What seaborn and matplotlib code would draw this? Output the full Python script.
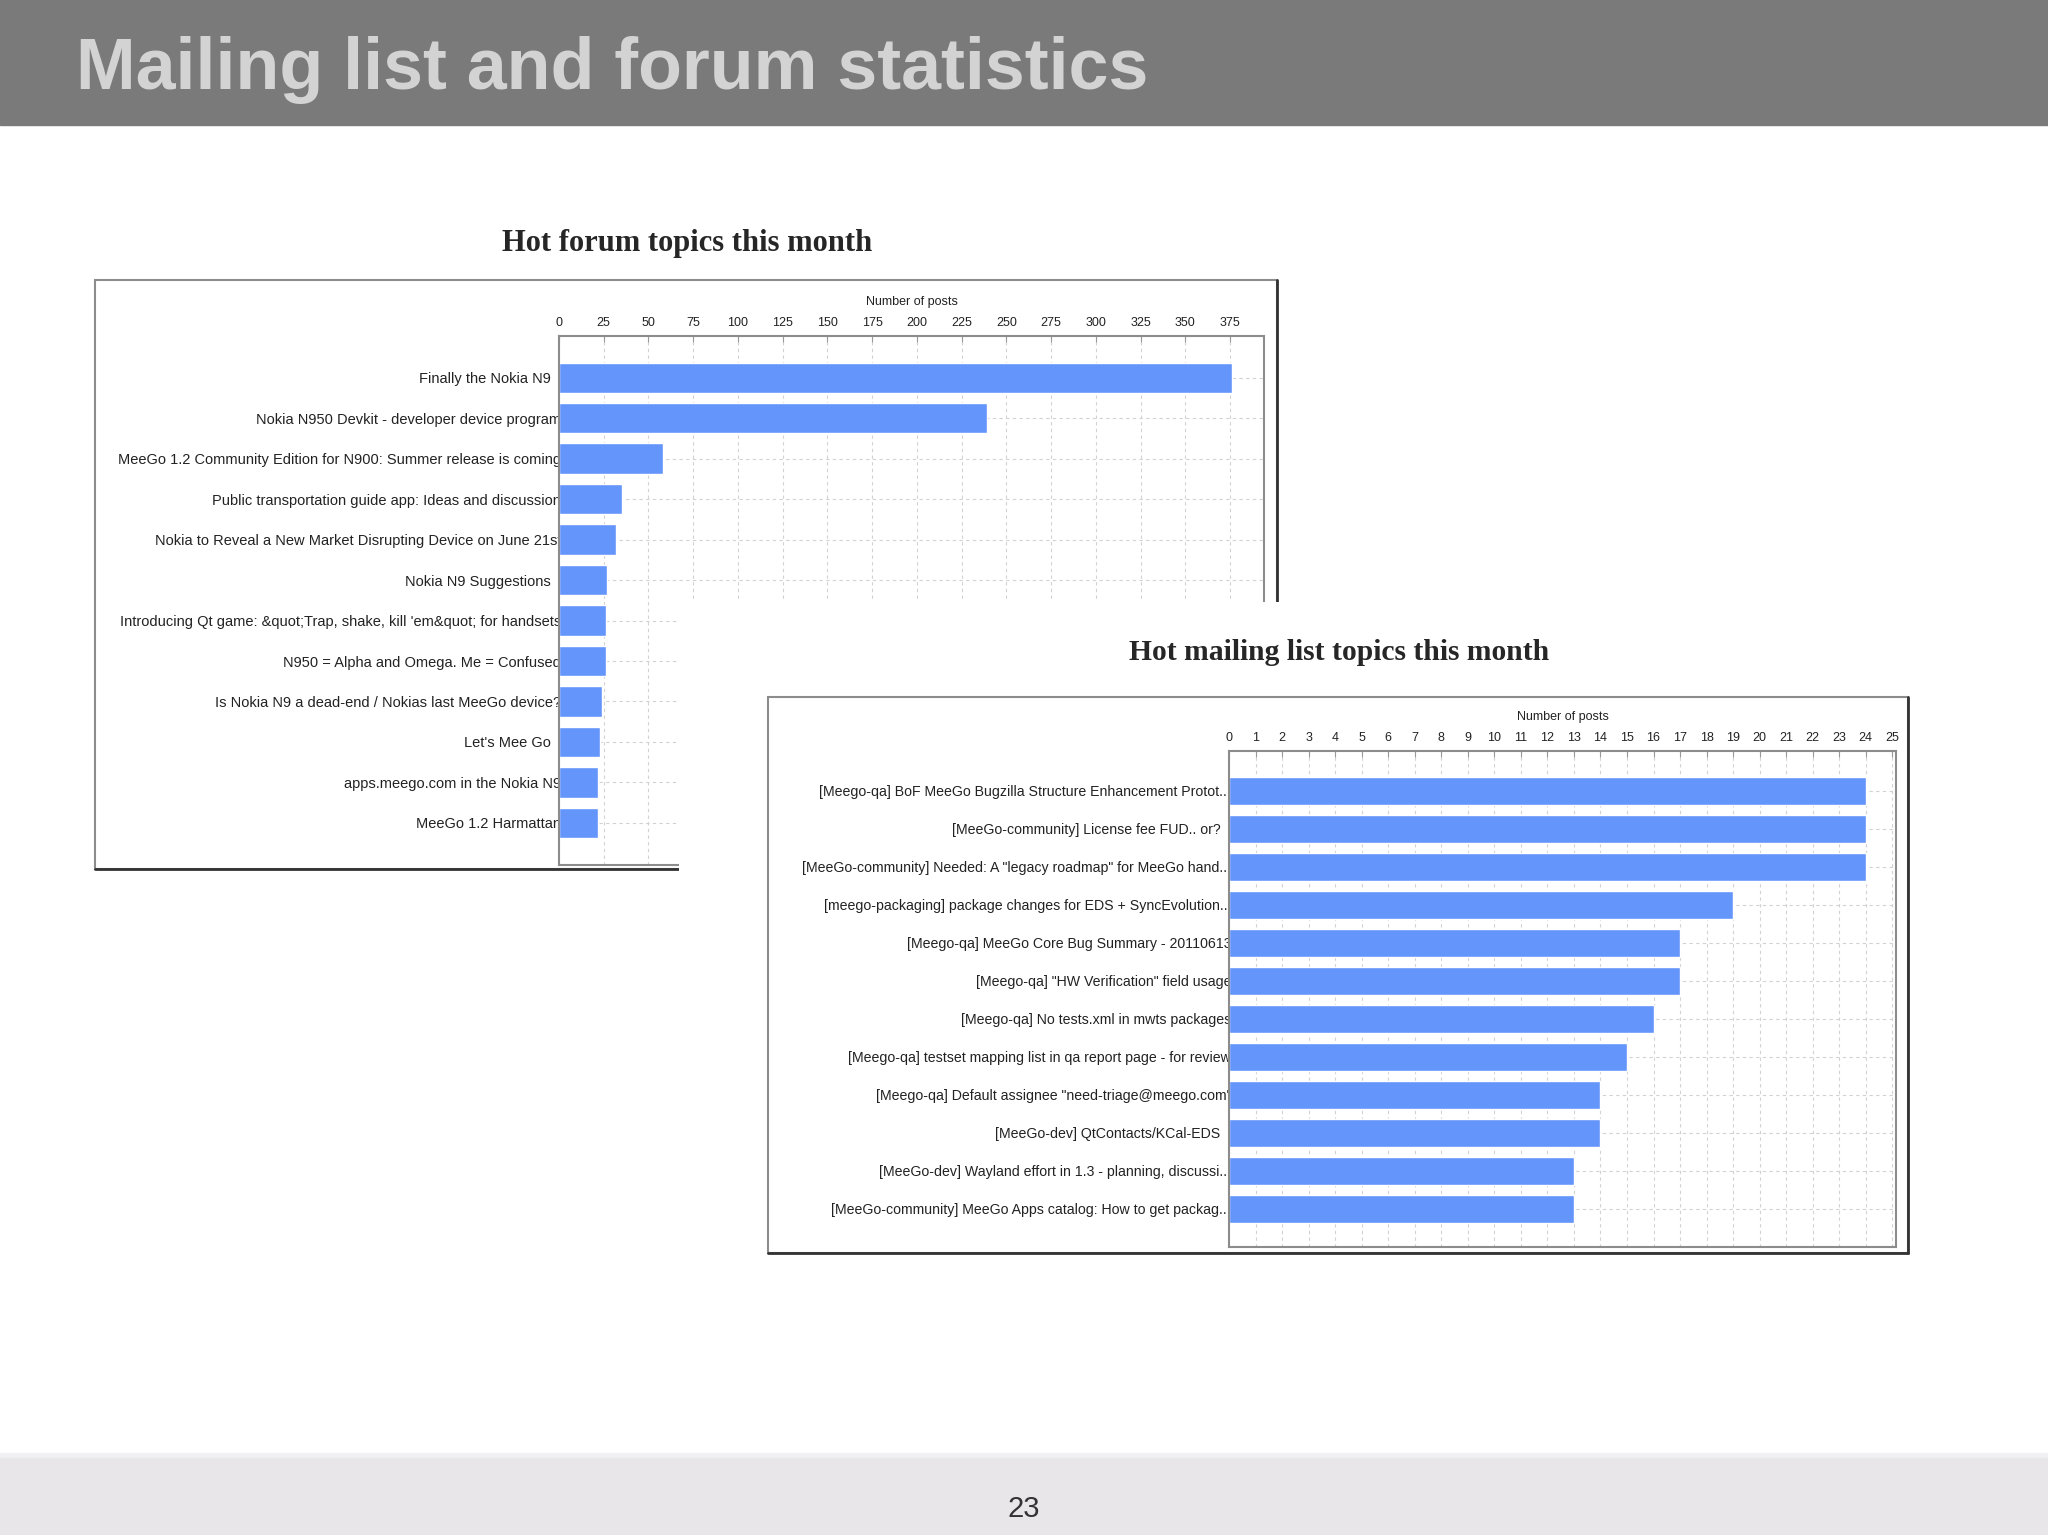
import numpy as np
import seaborn as sns
import matplotlib.pyplot as plt
import pandas as pd
from matplotlib.patches import Rectangle
from matplotlib.lines import Line2D
from matplotlib.transforms import Bbox, TransformedBbox, ScaledTranslation

# dati letti dalla slide
# (uno spazio finale = etichetta che si ferma prima dell'asse)
forum_topics = [
    "Finally the Nokia N9 ",
    "Nokia N950 Devkit - developer device program",
    "MeeGo 1.2 Community Edition for N900: Summer release is coming",
    "Public transportation guide app: Ideas and discussion",
    "Nokia to Reveal a New Market Disrupting Device on June 21st",
    "Nokia N9 Suggestions ",
    "Introducing Qt game: &quot;Trap, shake, kill 'em&quot; for handsets",
    "N950 = Alpha and Omega. Me = Confused",
    "Is Nokia N9 a dead-end / Nokias last MeeGo device?",
    "Let's Mee Go ",
    "apps.meego.com in the Nokia N9",
    "MeeGo 1.2 Harmattan",
]
forum_posts = [376, 239, 58, 35, 32, 27, 26, 26, 24, 23, 22, 22]
forum_ticks = list(range(0, 376, 25))

mail_topics = [
    "[Meego-qa] BoF MeeGo Bugzilla Structure Enhancement Protot...",
    "[MeeGo-community] License fee FUD.. or? ",
    '[MeeGo-community] Needed: A "legacy roadmap" for MeeGo hand...',
    "[meego-packaging] package changes for EDS + SyncEvolution...",
    "[Meego-qa] MeeGo Core Bug Summary - 20110613",
    '[Meego-qa] "HW Verification" field usage',
    "[Meego-qa] No tests.xml in mwts packages",
    "[Meego-qa] testset mapping list in qa report page - for review",
    '[Meego-qa] Default assignee "need-triage@meego.com"',
    "[MeeGo-dev] QtContacts/KCal-EDS ",
    "[MeeGo-dev] Wayland effort in 1.3 - planning, discussi...",
    "[MeeGo-community] MeeGo Apps catalog: How to get packag...",
]
mail_posts = [24, 24, 24, 19, 17, 17, 16, 15, 14, 14, 13, 13]
mail_ticks = list(range(0, 26))

forum_df = pd.DataFrame({"topic": forum_topics, "posts": forum_posts})
mail_df = pd.DataFrame({"topic": mail_topics, "posts": mail_posts})

sns.set_style("white")
plt.rcParams['font.family'] = ['Liberation Sans', 'DejaVu Sans']

W, H = 2048, 1535
BAR = "#6495fb"


def rect(l, t, r, b):
    # pixel -> frazioni della figura
    return [l / W, 1 - b / H, (r - l) / W, (b - t) / H]


def box(fig, l, t, r, b, z):
    fig.add_artist(Rectangle((l / W, 1 - b / H), (r - l) / W, (b - t) / H,
                             transform=fig.transFigure, facecolor="white",
                             edgecolor="#8c8c8c", lw=1.5, zorder=z))
    fig.add_artist(Line2D([r / W, r / W], [1 - t / H, 1 - b / H], color="#333333",
                          lw=2, transform=fig.transFigure, zorder=z))
    fig.add_artist(Line2D([l / W, r / W], [1 - b / H, 1 - b / H], color="#333333",
                          lw=2, transform=fig.transFigure, zorder=z))


def hbar(fig, ax, df, ticks, xmax, ylim, left_px, lab_size):
    sns.barplot(data=df, x="posts", y="topic", orient="h", color=BAR,
                width=0.75, saturation=1, ax=ax)
    ax.set_axisbelow(True)
    ax.grid(True, linestyle=(0, (3, 3)), color="#d2d2d2", lw=0.8)
    ax.set_xlim(0, xmax)
    ax.set_ylim(*ylim)
    ax.xaxis.tick_top()
    ax.xaxis.set_label_position("top")
    ax.set_xticks(ticks)
    ax.set_xlabel("Number of posts", fontsize=9, color="#222222", labelpad=9)
    ax.set_ylabel("")
    ax.tick_params(axis="x", direction="in", length=4, color="#999999",
                   labelsize=9, labelcolor="#222222", pad=5)
    ax.tick_params(axis="y", length=0, labelsize=lab_size, labelcolor="#222222", pad=-1.5)
    for s in ax.spines.values():
        s.set_color("#8c8c8c")
        s.set_linewidth(1.5)
    # le etichette vengono tagliate sul bordo sinistro del grafico
    clip = TransformedBbox(Bbox.from_extents(0, 0, left_px / W, 1), fig.transFigure)
    shift = ScaledTranslation(-0.065, 0, fig.dpi_scale_trans)
    for lab, name in zip(ax.get_yticklabels(), df["topic"]):
        lab.set_clip_box(clip)
        lab.set_clip_on(True)
        if name.endswith(" "):
            lab.set_transform(lab.get_transform() + shift)


fig = plt.figure(figsize=(20.48, 15.35), dpi=100)
fig.patch.set_facecolor("white")

# barra del titolo e piè di pagina
fig.add_artist(Rectangle((0, 1 - 125 / H), 1, 125 / H, transform=fig.transFigure,
                         color="#7a7a7a", zorder=0))
fig.text(76 / W, 1 - 89 / H, "Mailing list and forum statistics", fontsize=51.7,
         fontweight="bold", color="#d3d3d3", va="baseline", ha="left", zorder=1)
fig.add_artist(Rectangle((0, 0), 1, 82 / H, transform=fig.transFigure,
                         color="#f1f0f2", zorder=0))
fig.add_artist(Rectangle((0, 0), 1, 77 / H, transform=fig.transFigure,
                         color="#e8e6e9", zorder=0))
fig.text(0.5, 1 - 1509 / H, "23", fontsize=21, color="#333333",
         ha="center", va="center", zorder=1)

# forum
box(fig, 95, 280, 1277, 869, 0.5)
fig.text(687 / W, 1 - 243 / H, "Hot forum topics this month", fontsize=22,
         fontweight="bold", family="Liberation Serif", ha="center", va="center", zorder=1)
ax1 = fig.add_axes(rect(559, 336, 1264, 865))
ax1.set_zorder(1)
hbar(fig, ax1, forum_df, forum_ticks, 394, (12.04, -1.03), 559, 10.5)

# copertura bianca sotto il secondo grafico
fig.add_artist(Rectangle((679 / W, 1 - 1262 / H), (1925 - 679) / W, (1262 - 602) / H,
                         transform=fig.transFigure, facecolor="white",
                         edgecolor="none", zorder=2))

# mailing list
box(fig, 768, 697, 1908, 1253, 3)
fig.text(1339 / W, 1 - 653 / H, "Hot mailing list topics this month", fontsize=21.3,
         fontweight="bold", family="Liberation Serif", ha="center", va="center", zorder=3)
ax2 = fig.add_axes(rect(1229, 751, 1896, 1247))
ax2.set_zorder(4)
hbar(fig, ax2, mail_df, mail_ticks, 25.14, (12.0, -1.05), 1229, 10.2)

fig.savefig("out.png", dpi=100)
